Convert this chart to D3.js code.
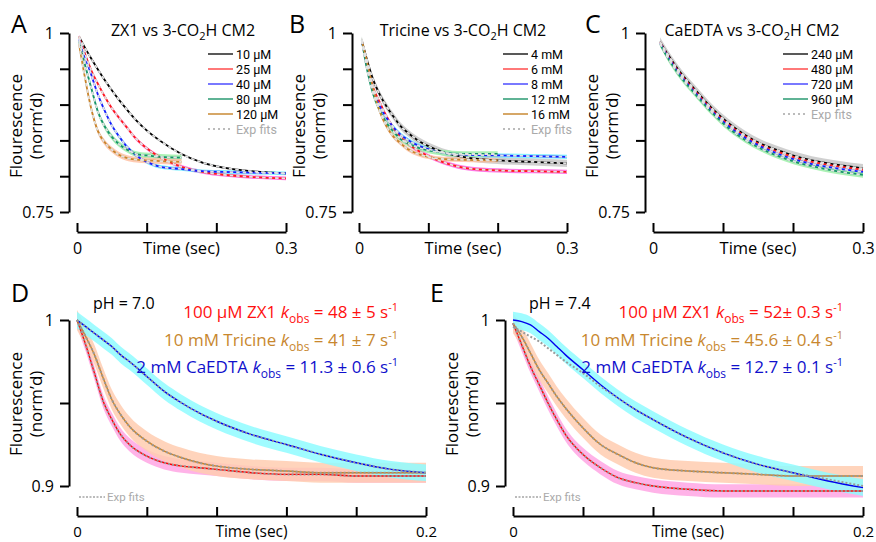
<!DOCTYPE html>
<html>
<head>
<meta charset="utf-8">
<script src="https://cdn.jsdelivr.net/npm/d3@7"></script>
<style>
	body { margin: 0; background: #fff; }
	svg text { font-family: "Open Sans", sans-serif; }
	svg text.leg { font-family: Roboto, sans-serif; }
</style>
</head>
<body>
<svg id="fig" width="876" height="542"></svg>
<script>
// ---- data ----
// A: ZX1 vs 3-CO2H CM2
const tA = [0.003, 0.01, 0.02, 0.03, 0.04, 0.05, 0.06, 0.07, 0.085, 0.1, 0.12, 0.15, 0.18, 0.21, 0.25, 0.3];
const zx1_10uM  = [0.995, 0.982, 0.965, 0.949, 0.934, 0.920, 0.907, 0.895, 0.878, 0.864, 0.849, 0.831, 0.819, 0.812, 0.807, 0.804];
const zx1_25uM  = [0.995, 0.975, 0.949, 0.929, 0.911, 0.895, 0.882, 0.870, 0.852, 0.839, 0.826, 0.813, 0.806, 0.802, 0.799, 0.797];
const zx1_40uM  = [0.991, 0.971, 0.943, 0.914, 0.891, 0.871, 0.856, 0.843, 0.829, 0.820, 0.813, 0.810, 0.807, 0.806, 0.805, 0.804];
const zx1_80uM  = [0.988, 0.961, 0.925, 0.890, 0.869, 0.855, 0.845, 0.838, 0.831, 0.829, 0.827, 0.826];
const zx1_120uM = [0.984, 0.945, 0.896, 0.863, 0.847, 0.837, 0.830, 0.826, 0.823, 0.822, 0.821, 0.820];
const zx1Labels = ["10 \u03bcM", "25 \u03bcM", "40 \u03bcM", "80 \u03bcM", "120 \u03bcM"];
const zx1Sem = [0.0015, 0.0025, 0.0025, 0.004, 0.004];

// B: Tricine vs 3-CO2H CM2
const tB = [0.004, 0.01, 0.02, 0.03, 0.04, 0.05, 0.06, 0.07, 0.085, 0.1, 0.12, 0.15, 0.2, 0.25, 0.3];
const tri_4mM  = [0.990, 0.968, 0.936, 0.914, 0.897, 0.883, 0.870, 0.861, 0.850, 0.842, 0.834, 0.827, 0.822, 0.820, 0.818];
const tri_6mM  = [0.990, 0.963, 0.925, 0.903, 0.883, 0.867, 0.855, 0.846, 0.836, 0.828, 0.820, 0.812, 0.808, 0.807, 0.806];
const tri_8mM  = [0.990, 0.960, 0.920, 0.898, 0.881, 0.868, 0.858, 0.851, 0.843, 0.838, 0.833, 0.830, 0.829, 0.828, 0.827];
const tri_12mM = [0.990, 0.957, 0.916, 0.892, 0.874, 0.862, 0.852, 0.846, 0.840, 0.836, 0.833, 0.831, 0.831];
const tri_16mM = [0.990, 0.966, 0.924, 0.890, 0.869, 0.855, 0.846, 0.838, 0.831, 0.827, 0.824, 0.823, 0.822];
const triLabels = ["4 mM", "6 mM", "8 mM", "12 mM", "16 mM"];
const triSem = [0.005, 0.003, 0.003, 0.004, 0.003];

// C: CaEDTA vs 3-CO2H CM2
const tC = [0.01, 0.02, 0.036, 0.06, 0.084, 0.108, 0.131, 0.155, 0.179, 0.203, 0.227, 0.262, 0.3];
const edta_240uM = [0.988, 0.972, 0.949, 0.921, 0.895, 0.874, 0.858, 0.845, 0.836, 0.828, 0.822, 0.816, 0.811];
const edta_480uM = [0.987, 0.970, 0.947, 0.919, 0.893, 0.872, 0.856, 0.843, 0.834, 0.826, 0.820, 0.814, 0.809];
const edta_720uM = [0.986, 0.969, 0.945, 0.917, 0.891, 0.870, 0.854, 0.841, 0.831, 0.823, 0.817, 0.811, 0.806];
const edta_960uM = [0.985, 0.967, 0.943, 0.915, 0.889, 0.867, 0.851, 0.838, 0.828, 0.820, 0.814, 0.807, 0.802];
const edtaLabels = ["240 \u03bcM", "480 \u03bcM", "720 \u03bcM", "960 \u03bcM"];
const edtaSem = [0.006, 0.002, 0.002, 0.004];

// D / E: pH 7.0 and 7.4
const tDE = [0, 0.005, 0.01, 0.015, 0.02, 0.025, 0.03, 0.04, 0.05, 0.06, 0.07, 0.08, 0.1, 0.12, 0.14, 0.16, 0.18, 0.2];
const pH70_zx1     = [1.000, 0.985, 0.968, 0.951, 0.940, 0.931, 0.925, 0.918, 0.914, 0.912, 0.911, 0.910, 0.908, 0.907, 0.907, 0.906, 0.906, 0.906];
const pH70_tricine = [1.000, 0.990, 0.979, 0.965, 0.952, 0.943, 0.936, 0.927, 0.921, 0.917, 0.914, 0.912, 0.910, 0.909, 0.908, 0.908, 0.908, 0.908];
const pH70_caedta  = [1.000, 0.996, 0.992, 0.988, 0.984, 0.979, 0.975, 0.966, 0.957, 0.950, 0.944, 0.939, 0.931, 0.925, 0.919, 0.914, 0.910, 0.908];
const pH74_zx1     = [0.998, 0.985, 0.972, 0.961, 0.950, 0.940, 0.931, 0.919, 0.911, 0.905, 0.902, 0.900, 0.898, 0.897, 0.897, 0.897, 0.897, 0.897];
const pH74_tricine = [0.998, 0.990, 0.980, 0.970, 0.962, 0.954, 0.947, 0.935, 0.925, 0.919, 0.914, 0.911, 0.909, 0.908, 0.907, 0.906, 0.906, 0.906];
const pH74_caedta  = [1.000, 0.999, 0.997, 0.993, 0.989, 0.984, 0.979, 0.970, 0.961, 0.953, 0.946, 0.940, 0.929, 0.920, 0.913, 0.908, 0.903, 0.899];
const pH74_caedtaFit = [0.996, 0.993, 0.990, 0.987, 0.983, 0.979, 0.975, 0.968, 0.960, 0.953, 0.946, 0.940, 0.929, 0.920, 0.913, 0.908, 0.904, 0.900];
const deSem = [0.004, 0.006, 0.005];

const kobsD = [["100 \u03bcM ZX1 ", "48 \u00b1 5"], ["10 mM Tricine ", "41 \u00b1 7"], ["2 mM CaEDTA ", "11.3 \u00b1 0.6"]];
const kobsE = [["100 \u03bcM ZX1 ", "52\u00b1 0.3"], ["10 mM Tricine ", "45.6 \u00b1 0.4"], ["2 mM CaEDTA ", "12.7 \u00b1 0.1"]];

const ticksTop = [0.75, 0.8, 0.85, 0.9, 0.95, 1];
const ticksBottom = [0.9, 0.95, 1];
const timeTop = [0, 0.1, 0.2, 0.3];
const timeBottom = [0, 0.04, 0.08, 0.12, 0.16, 0.2];

// ---- styles ----
const lineCol5 = ["#000000", "#ff1a1a", "#1a1aff", "#16936a", "#c8842a"];
const bandCol5 = ["#c8c8c8", "#ff5fe0", "#6ef0ff", "#9ef0a8", "#ffc2a4"];
const legCol5 = ["#222222", "#ff4d4d", "#4d4dff", "#2a9a72", "#c98a34"];
const deLine = ["#ff0000", "#c8842a", "#0000ee"];
const deBand = ["#ffa6e4", "#ffcdb0", "#8ffcff"];
const deText = ["#ff1010", "#c8872e", "#1010cc"];

const svg = d3.select("#fig");

function panelLetter(s, x, y) {
	svg.append("text").attr("x", x).attr("y", y).attr("font-size", 25).text(s);
}

function yLabel(cx, cy) {
	const g = svg.append("g").attr("transform", `translate(${cx},${cy}) rotate(-90)`);
	g.append("text").attr("x", 0).attr("y", -12).attr("text-anchor", "middle")
		.attr("font-size", 17).text("Flourescence");
	g.append("text").attr("x", 0).attr("y", 8).attr("text-anchor", "middle")
		.attr("font-size", 17).text("(norm\u2019d)");
}

function title(cx, name) {
	const t = svg.append("text").attr("x", cx).attr("y", 36).attr("text-anchor", "middle").attr("font-size", 16);
	t.append("tspan").text(name + " vs 3-CO");
	t.append("tspan").attr("font-size", 11).attr("dy", 4).text("2");
	t.append("tspan").attr("dy", -4).text("H CM2");
}

// axis line sits below, ticks point up into the plot (Igor style)
function axes(x, y, axisX, axisY, labelBase, fs, yTicks, yShow, xTicks, xShow) {
	const ya = d3.axisLeft(y).tickValues(yTicks).tickSizeInner(9).tickSizeOuter(0).tickPadding(6)
		.tickFormat(d => yShow.includes(d) ? String(d) : "");
	const gy = svg.append("g").attr("transform", `translate(${axisX},0)`).call(ya);
	const xa = d3.axisBottom(x).tickValues(xTicks).tickSizeInner(-9).tickSizeOuter(0)
		.tickFormat(d => xShow.includes(d) ? String(d) : "");
	const gx = svg.append("g").attr("transform", `translate(0,${axisY})`).call(xa);
	gx.selectAll("text").attr("y", labelBase - axisY).attr("dy", null);
	[gx, gy].forEach(g => {
		g.selectAll("path, line").attr("stroke", "#000").attr("stroke-width", 2);
		g.selectAll("text").attr("font-size", fs).attr("fill", "#000").style("font-family", "Open Sans");
	});
	gy.selectAll("text").attr("font-size", 16);
	const r = x.range();
	svg.append("text").attr("x", (r[0] + r[1]) / 2).attr("y", labelBase)
		.attr("text-anchor", "middle").attr("font-size", fs + 0.5).text("Time (sec)");
}

function traces(x, y, t, series, fitDash, lw) {
	const area = d3.area().curve(d3.curveMonotoneX);
	const line = d3.line().curve(d3.curveMonotoneX);
	series.forEach(s => {
		const pts = s.v.map((v, i) => [x(t[i]), y(v - s.sem), y(v + s.sem)]);
		svg.append("path").attr("d", area.x(p => p[0]).y0(p => p[1]).y1(p => p[2])(pts))
			.attr("fill", s.band).attr("opacity", 0.85);
	});
	series.forEach(s => {
		svg.append("path").attr("d", line(s.v.map((v, i) => [x(t[i]), y(v)])))
			.attr("fill", "none").attr("stroke", s.color).attr("stroke-width", lw);
	});
	series.forEach(s => {
		const fv = s.fit || s.v;
		svg.append("path").attr("d", line(fv.map((v, i) => [x(t[i]), y(v)])))
			.attr("fill", "none").attr("stroke", fitDash.color).attr("stroke-width", fitDash.width)
			.attr("stroke-dasharray", fitDash.dash);
	});
}

function legend(x0, x1, tx, y0, dy, labels, cols) {
	labels.forEach((lab, i) => {
		const yy = y0 + i * dy;
		svg.append("line").attr("x1", x0).attr("x2", x1).attr("y1", yy).attr("y2", yy)
			.attr("stroke", cols[i]).attr("stroke-width", 1.5);
		svg.append("text").attr("class", "leg").attr("x", tx).attr("y", yy + 4.5).attr("font-size", 12.5).text(lab);
	});
	const yy = y0 + labels.length * dy;
	svg.append("line").attr("x1", x0).attr("x2", x1).attr("y1", yy).attr("y2", yy)
		.attr("stroke", "#bbb").attr("stroke-width", 2).attr("stroke-dasharray", "2,3");
	svg.append("text").attr("class", "leg").attr("x", tx).attr("y", yy + 4.5).attr("font-size", 12.5)
		.attr("fill", "#aaa").text("Exp fits");
}

function topPanel(cfg) {
	const x = d3.scaleLinear().domain([0, 0.3]).range([cfg.xs, cfg.xe]);
	const y = d3.scaleLinear().domain([0.75, 1]).range([212, 33]);
	panelLetter(cfg.letter, cfg.letterX, 33);
	title(cfg.titleX, cfg.name);
	yLabel(cfg.axisX - 35, 126);
	const series = cfg.values.map((v, i) => ({v: v, sem: cfg.sem[i], color: lineCol5[i], band: bandCol5[i]}));
	traces(x, y, cfg.t, series, {color: "#e2e2e2", width: 1.8, dash: "3.5,3"}, 1.8);
	axes(x, y, cfg.axisX, 232, 254, 16, ticksTop, [0.75, 1], timeTop, [0, 0.3]);
	legend(cfg.legX, cfg.legX + 25, cfg.legX + 28, 54, 15, cfg.labels, legCol5);
}

function bottomPanel(cfg) {
	const x = d3.scaleLinear().domain([0, 0.2]).range([cfg.xs, cfg.xe]);
	const y = d3.scaleLinear().domain([0.9, 1]).range([486, 320]);
	panelLetter(cfg.letter, cfg.letterX, 302);
	yLabel(cfg.axisX - 35, 404);
	const series = cfg.values.map((v, i) => ({v: v, sem: deSem[i], color: deLine[i], band: deBand[i], fit: cfg.fits[i]}));
	traces(x, y, tDE, series, {color: "#9a9a9a", width: 2, dash: "2,2"}, 1.4);
	axes(x, y, cfg.axisX, 516, 537, 15, ticksBottom, [0.9, 1], timeBottom, [0, 0.2]);

	svg.append("text").attr("x", cfg.xs + 16).attr("y", 309).attr("font-size", 16).text(cfg.ph);
	cfg.kobs.forEach((k, i) => {
		const t = svg.append("text").attr("x", cfg.textRight).attr("y", 318 + i * 27.5)
			.attr("text-anchor", "end").attr("font-size", 17).attr("fill", deText[i]);
		t.append("tspan").text(k[0]);
		t.append("tspan").attr("font-style", "italic").text("k");
		t.append("tspan").attr("font-size", 12).attr("dy", 5).text("obs");
		t.append("tspan").attr("dy", -5).text(" = " + k[1] + " s");
		t.append("tspan").attr("font-size", 11).attr("dy", -7).text("-1");
	});
	const ly = 497;
	svg.append("line").attr("x1", cfg.xs + 2).attr("x2", cfg.xs + 28).attr("y1", ly).attr("y2", ly)
		.attr("stroke", "#bbb").attr("stroke-width", 2).attr("stroke-dasharray", "2,1.5");
	svg.append("text").attr("class", "leg").attr("x", cfg.xs + 30).attr("y", ly + 4).attr("font-size", 11.5)
		.attr("fill", "#aaa").text("Exp fits");
}

topPanel({letter: "A", letterX: 11, axisX: 69, xs: 77, xe: 286, titleX: 183, name: "ZX1", t: tA,
	values: [zx1_10uM, zx1_25uM, zx1_40uM, zx1_80uM, zx1_120uM], sem: zx1Sem, labels: zx1Labels, legX: 208});
topPanel({letter: "B", letterX: 289, axisX: 352, xs: 359, xe: 567, titleX: 463, name: "Tricine", t: tB,
	values: [tri_4mM, tri_6mM, tri_8mM, tri_12mM, tri_16mM], sem: triSem, labels: triLabels, legX: 503});
topPanel({letter: "C", letterX: 585, axisX: 645, xs: 653, xe: 863, titleX: 752, name: "CaEDTA", t: tC,
	values: [edta_240uM, edta_480uM, edta_720uM, edta_960uM], sem: edtaSem, labels: edtaLabels, legX: 783});

bottomPanel({letter: "D", letterX: 11, axisX: 69, xs: 77, xe: 426, ph: "pH = 7.0", kobs: kobsD, textRight: 398,
	values: [pH70_zx1, pH70_tricine, pH70_caedta], fits: [null, null, null]});
bottomPanel({letter: "E", letterX: 430, axisX: 505, xs: 513, xe: 863, ph: "pH = 7.4", kobs: kobsE, textRight: 843,
	values: [pH74_zx1, pH74_tricine, pH74_caedta], fits: [null, null, pH74_caedtaFit]});
</script>
</body>
</html>
